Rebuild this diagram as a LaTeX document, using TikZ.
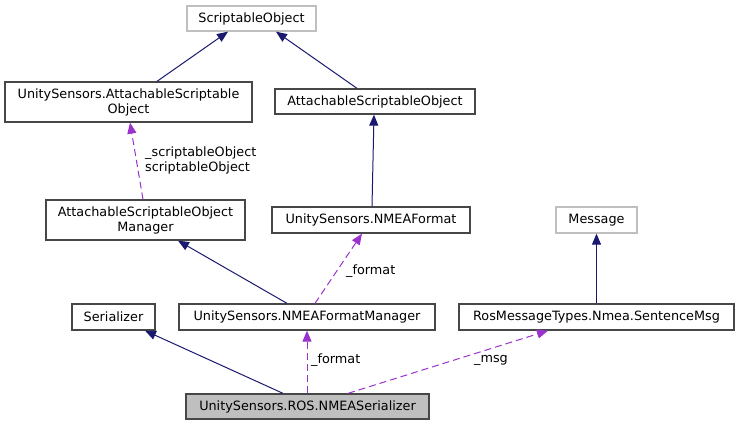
\documentclass[tikz,border=0pt]{standalone}
\usepackage{fontspec}
\setmainfont{DejaVu Sans}
\usetikzlibrary{arrows.meta}

\begin{document}
\begin{tikzpicture}[x=1pt, y=-1pt, every node/.style={font=\fontsize{12.8}{15}\selectfont, inner sep=0pt},
	cls/.style={draw=black!72, line width=1.3pt, minimum height=25pt, align=center},
	ext/.style={cls, draw=black!25},
	focus/.style={cls, fill=black!25},
	inh/.style={draw={rgb,255:red,25;green,25;blue,112}, line width=1pt, -{Triangle[length=11pt, width=9pt]}},
	use/.style={draw={rgb,255:red,154;green,50;blue,205}, line width=1pt, dash pattern=on 7pt off 4pt, -{Triangle[length=11pt, width=9pt, fill={rgb,255:red,154;green,50;blue,205}]}},
	lbl/.style={anchor=west, align=left}]
			\useasboundingbox (0,0) rectangle (739,425);
			% classes
			\node[ext, minimum width=129pt] (so) at (251.5,18.5) {ScriptableObject};
			\node[cls, minimum width=247pt, minimum height=40pt] (usaso) at (128.5,102) {UnitySensors.AttachableScriptable\\Object};
			\node[cls, minimum width=200pt] (aso) at (375,101.5) {AttachableScriptableObject};
			\node[cls, minimum width=199pt, minimum height=40pt] (asom) at (145.5,220) {AttachableScriptableObject\\Manager};
			\node[cls, minimum width=198pt, minimum height=26pt] (nf) at (371,220) {UnitySensors.NMEAFormat};
			\node[ext, minimum width=81pt, minimum height=26pt] (msg) at (596.5,220) {Message};
			\node[cls, minimum width=83pt, minimum height=26pt] (ser) at (113.5,317) {Serializer};
			\node[cls, minimum width=256pt, minimum height=26pt] (nfm) at (307,317) {UnitySensors.NMEAFormatManager};
			\node[cls, minimum width=275pt, minimum height=26pt] (sm) at (596.5,317) {RosMessageTypes.Nmea.SentenceMsg};
			\node[focus, minimum width=243pt] (nser) at (307.5,406.5) {UnitySensors.ROS.NMEASerializer};
			% inheritance
			\draw[inh] ([xshift=28.5pt]usaso.north) -- ([xshift=-23.5pt]so.south);
			\draw[inh] ([xshift=-18pt]aso.north) -- ([xshift=24.5pt]so.south);
			\draw[inh] ([xshift=1pt]nf.north) -- ([xshift=-1pt]aso.south);
			\draw[inh] ([xshift=-20pt]nfm.north) -- ([xshift=32.5pt]asom.south);
			\draw[inh] (sm.north) -- (msg.south);
			\draw[inh] ([xshift=-24.5pt]nser.north) -- ([xshift=31.5pt]ser.south);
			% usage
			\draw[use] ([xshift=-2.5pt]asom.north) -- ([xshift=1.5pt]usaso.south);
			\draw[use] ([xshift=8pt]nfm.north) -- ([xshift=-9pt]nf.south);
			\draw[use] ([xshift=-0.5pt]nser.north) -- (nfm.south);
			\draw[use] ([xshift=40.5pt]nser.north) -- ([xshift=-48.5pt]sm.south);
			\node[lbl] (l1) at (145,160) {\_scriptableObject\\scriptableObject};
			\node[lbl] (l2) at (346,271) {\_format};
			\node[lbl] (l3) at (311,360) {\_format};
			\node[lbl] (l4) at (474,360) {\_msg};
		\end{tikzpicture}
\end{document}
